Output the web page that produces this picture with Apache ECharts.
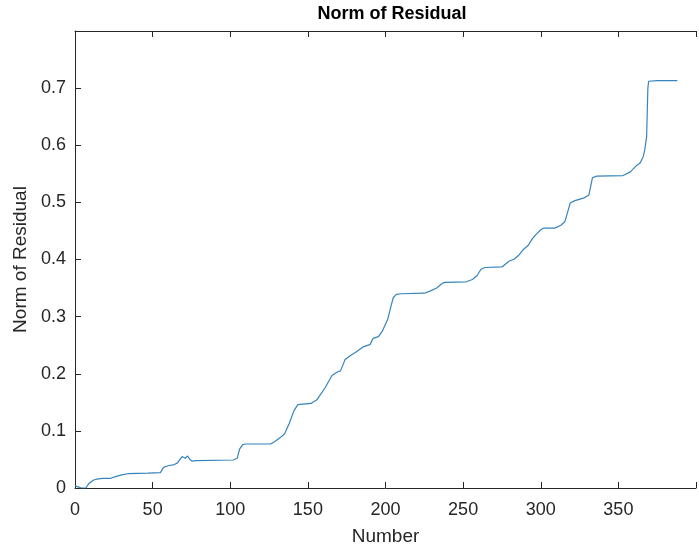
<!DOCTYPE html>
<html>
<head>
<meta charset="utf-8">
<script src="https://cdn.jsdelivr.net/npm/echarts@6/dist/echarts.min.js"></script>
<style>html,body{margin:0;padding:0;background:#fff;}#c{width:699px;height:551px;}</style>
</head>
<body>
<div id="c"></div>
<script>
const numbers = [0,2,4,7,9,10,12,15,18,23,26,30,34,47,55,57,60,64,66,69,71,72.5,74,75.5,78,102,104.5,106,108,110,126,129,133,135,138,141,143.5,152,156,161,165.5,169,171,174,177,181,185.5,190,192,195.5,198,201.5,203.5,205,207,210,225,229,233,236,238,252,256,259,261.5,264,275,279.5,283,286,289,292,294.5,297,300,302,309,313,315.5,317,319,322,328,331,333.3,336,353,357.5,361.5,364,366,367,368.2,369,369.5,375,388];
const residuals = [0.004,0.002,0.0,0.0,0.008,0.010,0.014,0.016,0.017,0.017,0.020,0.023,0.025,0.026,0.027,0.036,0.039,0.041,0.044,0.055,0.052,0.056,0.050,0.047,0.048,0.049,0.052,0.068,0.076,0.077,0.077,0.082,0.090,0.095,0.113,0.135,0.146,0.148,0.155,0.175,0.197,0.203,0.205,0.225,0.231,0.238,0.247,0.251,0.262,0.265,0.275,0.296,0.318,0.333,0.339,0.340,0.341,0.345,0.350,0.357,0.360,0.361,0.365,0.372,0.383,0.386,0.387,0.397,0.401,0.408,0.418,0.425,0.436,0.444,0.452,0.455,0.455,0.460,0.466,0.480,0.499,0.503,0.508,0.513,0.543,0.546,0.547,0.553,0.564,0.569,0.580,0.592,0.615,0.700,0.712,0.713,0.713];
const xTicks = [0,50,100,150,200,250,300,350];
const yTicks = [0,0.1,0.2,0.3,0.4,0.5,0.6,0.7];

const axisColor = '#262626';
const font = 'Liberation Sans, Arial, Helvetica, sans-serif';
const chart = echarts.init(document.getElementById('c'));
const data = numbers.map((n,i)=>[n,residuals[i]]);
chart.setOption({
  animation:false,
  backgroundColor:'#fff',
  title:{text:'Norm of Residual',left:387,top:0,textAlign:'center',
    textStyle:{fontFamily:font,fontWeight:'bold',fontSize:18,color:'#000'}},
  grid:{left:75,top:31,width:636,height:462,containLabel:false},
  xAxis:[{
    type:'value',min:0,max:400,interval:50,position:'bottom',
    name:'Number',nameLocation:'middle',nameGap:39,
    nameTextStyle:{fontFamily:font,fontSize:19,color:axisColor},
    axisLine:{show:true,lineStyle:{color:axisColor,width:1}},
    axisTick:{show:true,inside:true,length:6,lineStyle:{color:axisColor}},
    axisLabel:{fontFamily:font,fontSize:18,color:axisColor,margin:13,
      formatter:v=>xTicks.includes(v)?String(v):''},
    splitLine:{show:false}
  },{
    type:'value',min:0,max:400,interval:50,position:'top',
    axisLine:{show:true,onZero:false,lineStyle:{color:axisColor,width:1}},
    axisTick:{show:true,inside:true,length:6,lineStyle:{color:axisColor}},
    axisLabel:{show:false},splitLine:{show:false}
  }],
  yAxis:[{
    type:'value',min:0,max:0.8,interval:0.1,position:'left',
    name:'Norm of Residual',nameLocation:'middle',nameGap:43,nameRotate:90,
    nameTextStyle:{fontFamily:font,fontSize:19,color:axisColor},
    axisLine:{show:true,lineStyle:{color:axisColor,width:1}},
    axisTick:{show:true,inside:true,length:6,lineStyle:{color:axisColor}},
    axisLabel:{fontFamily:font,fontSize:18,color:axisColor,margin:9,
      formatter:v=>{const t=yTicks.find(k=>Math.abs(k-v)<1e-9);return t===undefined?'':String(t);}},
    splitLine:{show:false}
  }],
  series:[{
    type:'line',data:data,xAxisIndex:0,yAxisIndex:0,showSymbol:false,
    lineStyle:{color:'#3584bb',width:1.2},smooth:false
  }]
});
</script>
</body>
</html>
